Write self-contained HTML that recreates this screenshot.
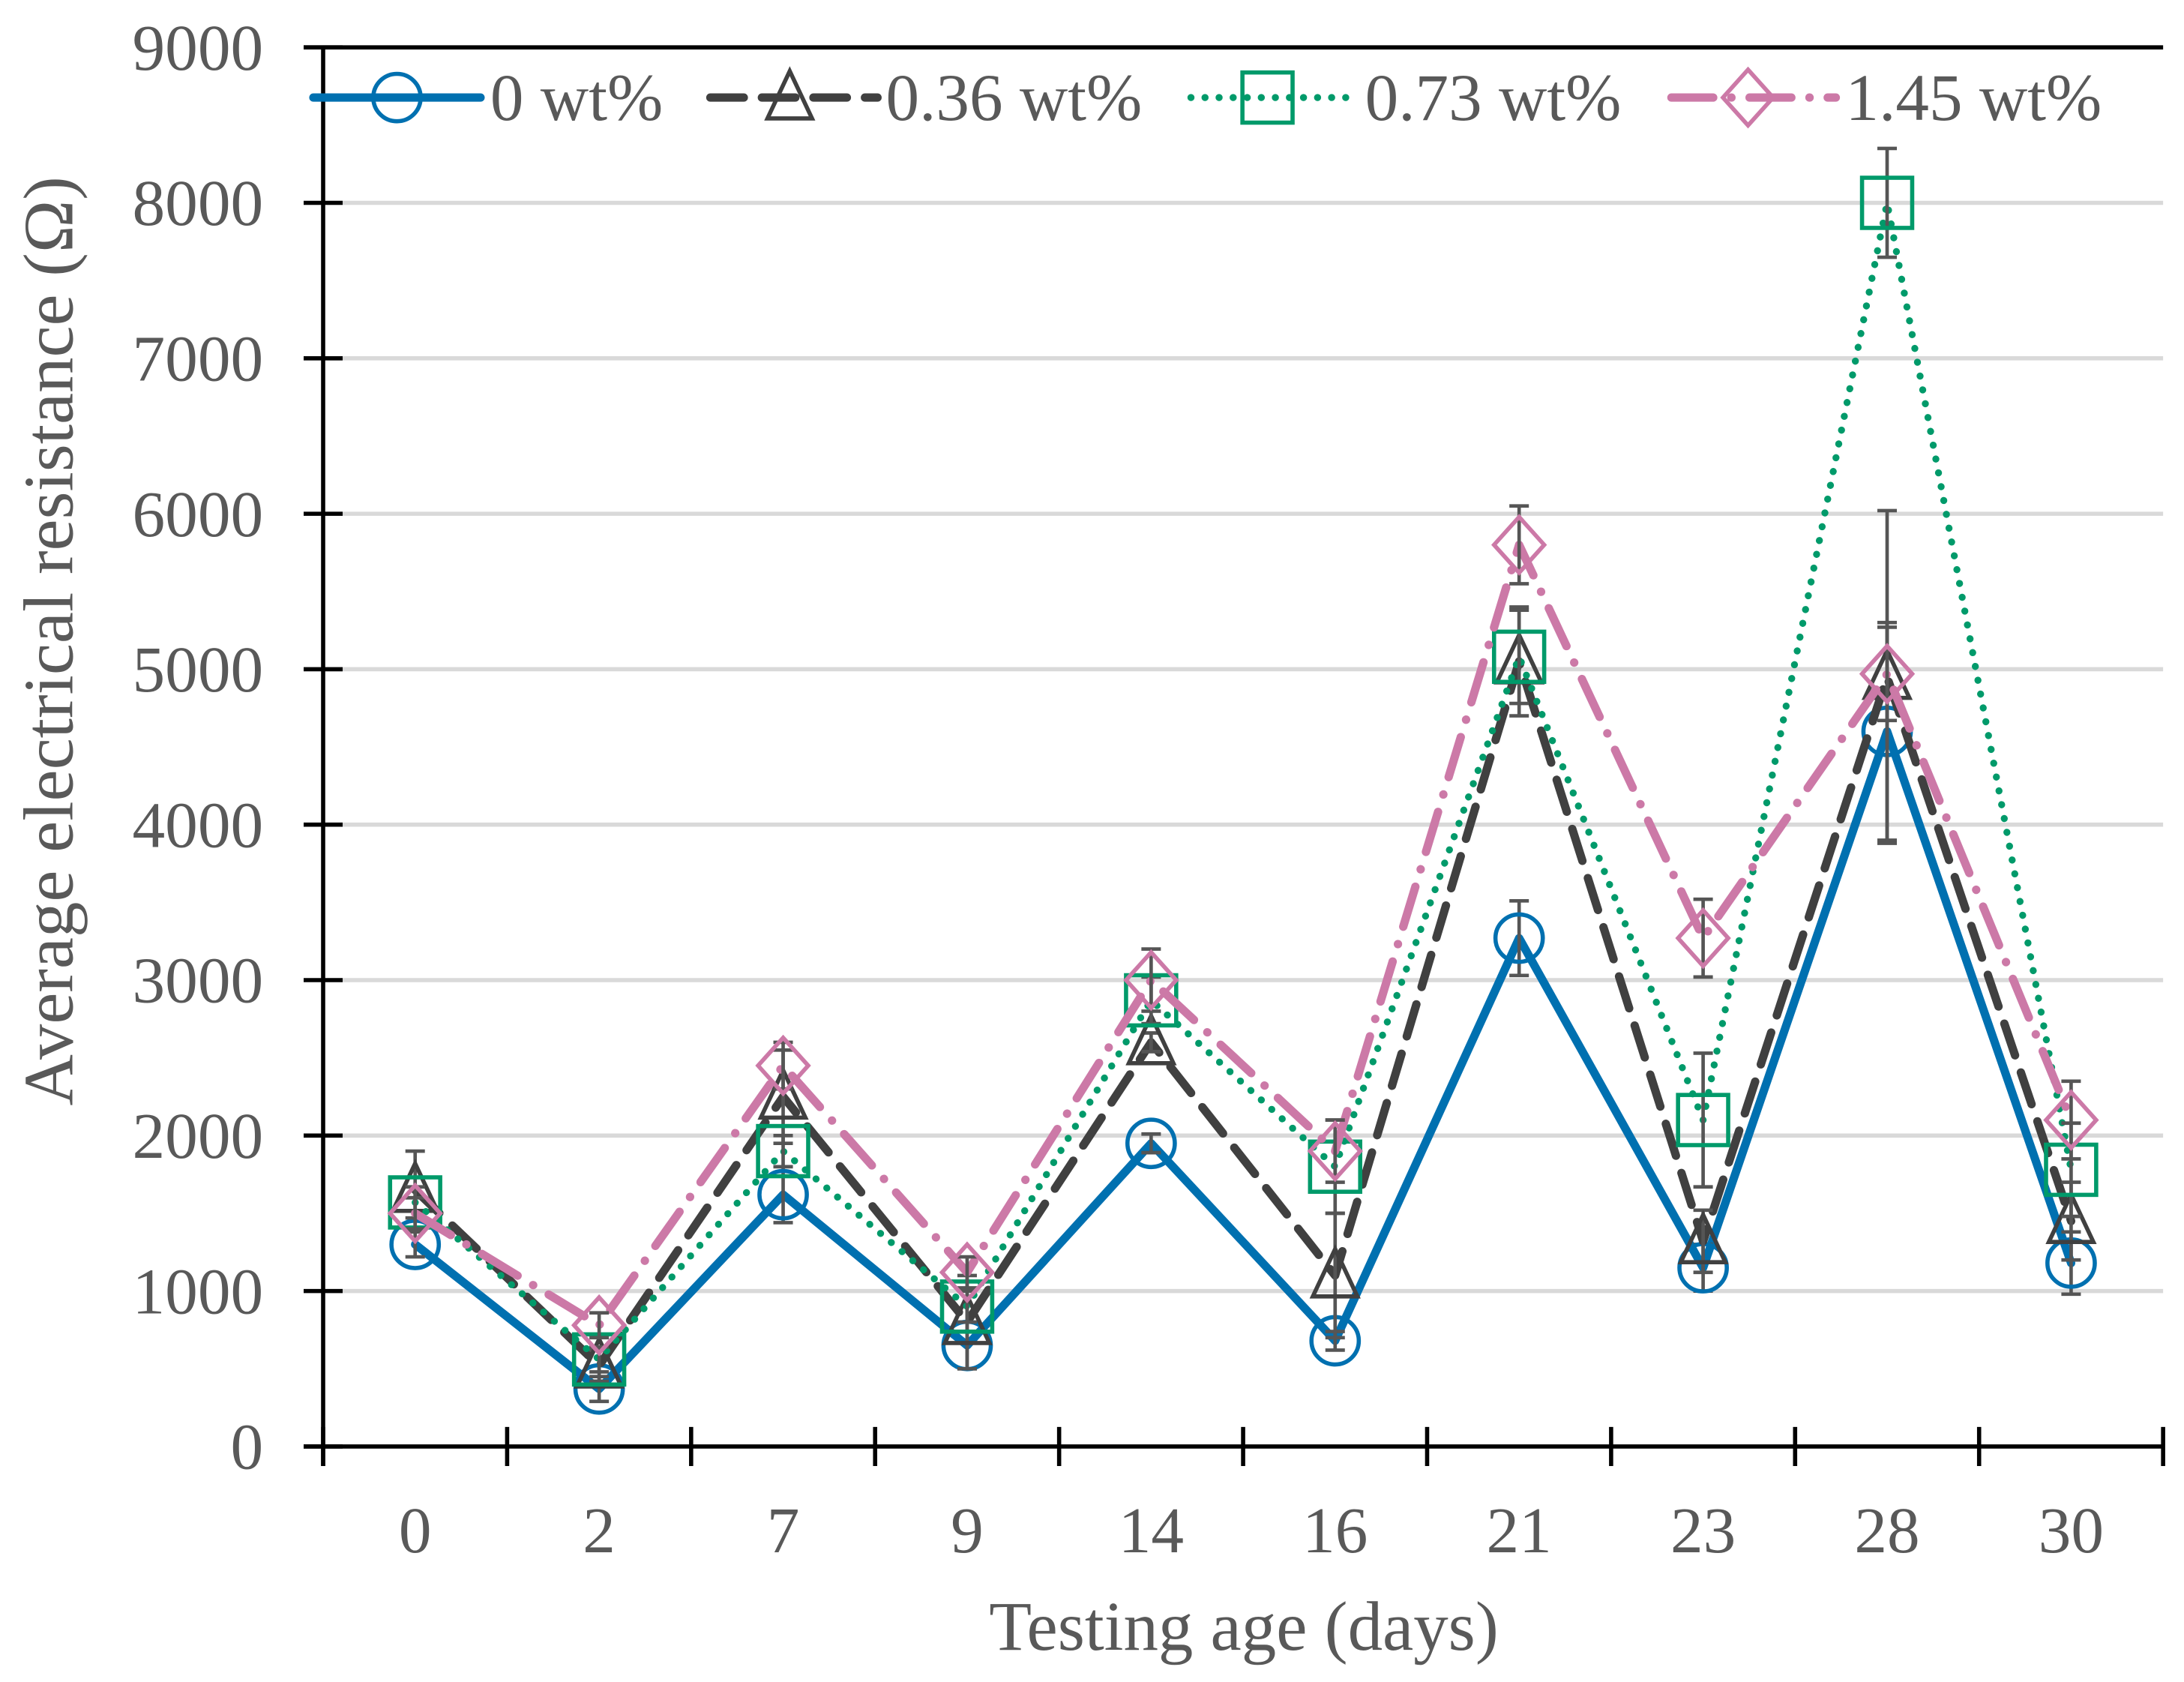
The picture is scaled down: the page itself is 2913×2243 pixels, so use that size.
<!DOCTYPE html>
<html><head><meta charset="utf-8"><style>
html,body{margin:0;padding:0;background:#fff}
svg{display:block}
text{font-family:"Liberation Serif",serif;fill:#595959}
</style></head><body>
<svg id="chart" width="2913" height="2243" viewBox="0 0 1568 1207" preserveAspectRatio="none" xmlns="http://www.w3.org/2000/svg">
<g id="grid"></g>
<g id="axes"></g>
<g id="series"></g>
<g id="legend"></g>
<text x="893" y="1184" font-size="50" text-anchor="middle">Testing age (days)</text>
<text transform="translate(52,460) rotate(-90)" font-size="51" text-anchor="middle">Average electrical resistance (Ω)</text>
</svg>
<script>
const categories=["0","2","7","9","14","16","21","23","28","30"];
const yTicks=[0,1000,2000,3000,4000,5000,6000,7000,8000,9000];
const s0=[1300,370,1620,650,1950,680,3270,1150,4600,1180];
const e0=[80,80,180,150,60,60,240,150,700,200];
const s1=[1650,520,2250,800,2600,1100,5050,1320,4950,1450];
const e1=[250,100,300,300,60,400,350,200,1070,250];
const s2=[1570,560,1900,900,2870,1800,5080,2100,8000,1780];
const e2=[100,80,100,100,150,300,300,430,350,300];
const s3=[1500,780,2450,1120,3000,1900,5800,3270,4970,2100];
const e3=[100,80,150,100,200,200,250,250,300,250];
const seriesNames=["0 wt%","0.36 wt%","0.73 wt%","1.45 wt%"];

const NS="http://www.w3.org/2000/svg";
const L=232,R=1553,T=34,B=1038,YMAX=9000;
const bw=(R-L)/categories.length;
const X=i=>L+bw*(i+0.5);
const Y=v=>B-(v/YMAX)*(B-T);
function mk(tag,attrs,parent){const e=document.createElementNS(NS,tag);for(const k in attrs)e.setAttribute(k,attrs[k]);parent.appendChild(e);return e;}
const grid=document.getElementById('grid'),axes=document.getElementById('axes'),ser=document.getElementById('series'),leg=document.getElementById('legend');
yTicks.forEach(v=>{
  if(v>0){const g=mk('line',{x1:L,x2:R,y1:Y(v),y2:Y(v),stroke:'#d9d9d9','stroke-width':3},grid);
  
  }
  const t=mk('line',{x1:L-14,x2:L+14,y1:Y(v),y2:Y(v),stroke:'#000','stroke-width':3},axes);
  
  
  const tx=mk('text',{x:189,y:Y(v)+16,'font-size':47,'text-anchor':'end'},axes);tx.textContent=v;
  
  
});
let a=mk('line',{x1:L,x2:L,y1:T,y2:B+14,stroke:'#000','stroke-width':3},axes);


a=mk('line',{x1:L-14,x2:R,y1:B,y2:B,stroke:'#000','stroke-width':3},axes);


a=mk('line',{x1:L-14,x2:R,y1:T,y2:T,stroke:'#000','stroke-width':3},axes);


for(let i=0;i<=categories.length;i++){
  const t=mk('line',{x1:L+bw*i,x2:L+bw*i,y1:B-14,y2:B+14,stroke:'#000','stroke-width':3},axes);
  
  
}
categories.forEach((c,i)=>{const t=mk('text',{x:X(i),y:1114,'font-size':47,'text-anchor':'middle'},axes);t.textContent=c;
  
  });

const styles=[
 {c:'#0070b0',w:6,d:'',m:'circle'},
 {c:'#404040',w:6,d:'24 13',m:'tri'},
 {c:'#009a6a',w:5,d:'0.1 10',m:'sq'},
 {c:'#cc79a7',w:6,d:'30 13 0.1 13',m:'dia'}];
function marker(type,x,y,col,p){
  let e;
  if(type==='circle')e=mk('circle',{cx:x,cy:y,r:17,fill:'none',stroke:col,'stroke-width':3},p);
  else if(type==='tri')e=mk('path',{d:`M${x} ${y-19}L${x+16} ${y+15}L${x-16} ${y+15}Z`,fill:'none',stroke:col,'stroke-width':3},p);
  else if(type==='sq')e=mk('rect',{x:x-18,y:y-18,width:36,height:36,fill:'none',stroke:col,'stroke-width':3},p);
  else e=mk('path',{d:`M${x} ${y-20}L${x+18} ${y}L${x} ${y+20}L${x-18} ${y}Z`,fill:'none',stroke:col,'stroke-width':3},p);
  return e;
}
const data=[s0,s1,s2,s3],errs=[e0,e1,e2,e3];
data.forEach((s,k)=>{
  const st=styles[k];
  const g=mk('g',{},ser);
  
  
  const pl=mk('polyline',{points:s.map((v,i)=>X(i)+','+Y(v)).join(' '),fill:'none',stroke:st.c,'stroke-width':st.w,'stroke-dasharray':st.d,'stroke-linecap':'round','stroke-linejoin':'round'},g);
  
  
  s.forEach((v,i)=>{
    const x=X(i),e=errs[k][i];
    const eb=mk('path',{d:`M${x} ${Y(v-e)}V${Y(v+e)}M${x-7} ${Y(v-e)}H${x+7}M${x-7} ${Y(v+e)}H${x+7}`,stroke:'#555','stroke-width':2.5,fill:'none'},g);
    
    
    const m=marker(st.m,x,Y(v),st.c,g);
    
    
  });
});
const legPos=[[225,345,285,352],[510,630,567,636],[855,972,910,980],[1200,1318,1255,1325]];
legPos.forEach((p,k)=>{
  const st=styles[k];
  const g=mk('g',{},leg);
  
  
  mk('line',{x1:p[0],x2:p[1],y1:70,y2:70,stroke:st.c,'stroke-width':st.w,'stroke-dasharray':st.d,'stroke-linecap':'round'},g);
  marker(st.m,p[2],70,st.c,g);
  const t=mk('text',{x:p[3],y:86,'font-size':48},g);t.textContent=seriesNames[k];
});
</script>
</body></html>
